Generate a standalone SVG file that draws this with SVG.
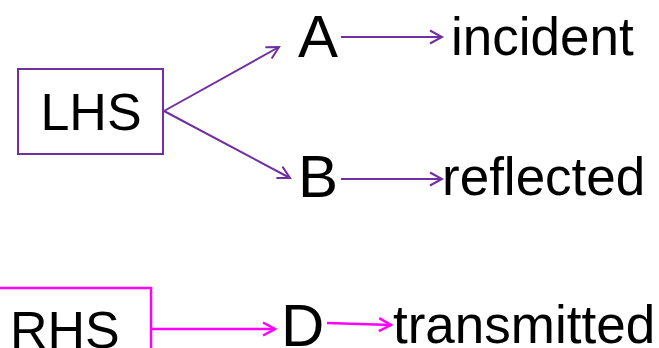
<svg xmlns="http://www.w3.org/2000/svg" width="659" height="348" viewBox="0 0 659 348">
<style>
text{font-family:"Liberation Sans",Arial,sans-serif;fill:#000}
.p{stroke:#7030A0;stroke-width:2;fill:none}
.m{stroke:#FF00FF;stroke-width:2.5;fill:none}
</style>
<defs>
<marker id="ap" markerWidth="16" markerHeight="16" refX="13" refY="8" orient="auto" markerUnits="userSpaceOnUse"><path d="M1,1.5 L13,8 L1,14.5" fill="none" stroke="#7030A0" stroke-width="2"/></marker>
<marker id="am" markerWidth="16" markerHeight="16" refX="13" refY="8" orient="auto" markerUnits="userSpaceOnUse"><path d="M1,1.5 L13,8 L1,14.5" fill="none" stroke="#FF00FF" stroke-width="2.5"/></marker>
</defs>
<g id="LHS"><rect x="18" y="69" width="145" height="85" class="p"/><text x="91" y="130" font-size="52" text-anchor="middle">LHS</text></g>
<g id="A"><text x="298" y="57" font-size="60">A</text></g>
<g id="B"><text x="298" y="197" font-size="60">B</text></g>
<g id="incident"><text x="451" y="55" font-size="53">incident</text></g>
<g id="reflected"><text x="442" y="195" font-size="53">reflected</text></g>
<g id="RHS"><polyline points="0,288 151,288 151,348" class="m"/><text x="10" y="348" font-size="52">RHS</text></g>
<g id="D"><text x="281" y="346" font-size="60">D</text></g>
<g id="transmitted"><text x="393" y="343" font-size="53">transmitted</text></g>
<g id="connectors">
<line x1="164" y1="111" x2="279" y2="47" class="p" marker-end="url(#ap)"/>
<line x1="164" y1="111" x2="290" y2="178" class="p" marker-end="url(#ap)"/>
<line x1="341" y1="37" x2="442" y2="37" class="p" marker-end="url(#ap)"/>
<line x1="341" y1="179" x2="442" y2="179" class="p" marker-end="url(#ap)"/>
<line x1="151" y1="329" x2="275" y2="329" class="m" marker-end="url(#am)"/>
<line x1="327" y1="323" x2="391" y2="325" class="m" marker-end="url(#am)"/>
</g>
</svg>
